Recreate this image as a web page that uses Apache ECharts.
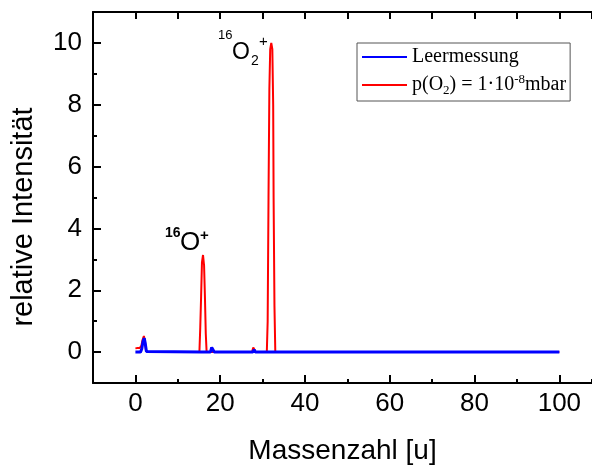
<!DOCTYPE html>
<html>
<head>
<meta charset="utf-8">
<script src="https://cdn.jsdelivr.net/npm/echarts@6/dist/echarts.min.js"></script>
<style>html,body{margin:0;padding:0;background:#fff}#c{width:592px;height:466px}</style>
</head>
<body>
<div id="c"></div>
<script>
// ---- data ----
const xTickLabels = [0, 20, 40, 60, 80, 100];
const yTickLabels = [0, 2, 4, 6, 8, 10];
const xTitle = 'Massenzahl [u]';
const yTitle = 'relative Intensität';

const blueName = 'Leermessung';
const blueMass = [0, 1.2, 1.5, 1.8, 2.1, 2.3, 2.6, 2.9, 15.6, 15.9, 16.2, 17.7, 18.0, 18.3, 18.6, 27.7, 28.0, 28.3, 43.7, 44.0, 44.3, 100];
const blueInt  = [0, 0, 0.1, 0.35, 0.45, 0.3, 0.02, 0, 0, 0.06, 0, 0, 0.15, 0.12, 0, 0, 0.08, 0, 0, 0.03, 0, 0];

const redName = 'p(O₂) = 1·10⁻⁸mbar';
const redMass = [0, 0.5, 1.0, 1.4, 1.7, 2.0, 2.2, 2.5, 3.0,
  12.0, 12.2, 12.4,
  15.1, 15.3, 15.5, 15.7, 15.95, 16.2, 16.4, 16.6, 16.8,
  27.5, 27.8, 28.1, 28.4,
  31.0, 31.2, 31.4, 31.6, 31.8, 32.05, 32.3, 32.5, 32.6, 32.8, 33.0,
  33.8, 34.1, 34.4,
  43.7, 44.0, 44.3, 100];
const redInt = [0.12, 0.13, 0.13, 0.2, 0.4, 0.52, 0.4, 0.05, 0,
  0, 0.04, 0,
  0, 0.8, 1.8, 2.9, 3.14, 2.8, 1.8, 0.6, 0,
  0, 0.15, 0.12, 0,
  0, 1.0, 5.0, 8.5, 9.8, 10.0, 9.8, 8.0, 5.0, 1.5, 0,
  0, 0.06, 0,
  0, 0.05, 0, 0];

const zip = (a, b) => a.map((v, i) => [v, b[i]]);

const chart = echarts.init(document.getElementById('c'), null, {renderer: 'canvas'});
const font = 'Liberation Sans, Arial, sans-serif';
const serif = 'Liberation Serif, Times New Roman, serif';
const lineStyle = {color: '#000', width: 2};
const X_MIN = -10, X_MAX = 107.7, Y_MIN = -1, Y_MAX = 11;

chart.setOption({
  animation: false,
  backgroundColor: '#fff',
  grid: {left: 93, top: 12, right: 0, bottom: 83, containLabel: false, outerBoundsMode: 'none'},
  legend: {
    orient: 'vertical',
    left: 357, top: 43,
    data: [blueName, redName],
    icon: 'rect',
    itemWidth: 45, itemHeight: 2,
    itemGap: 6,
    padding: [4, 4, 4, 5],
    borderColor: '#555', borderWidth: 1,
    textStyle: {
      fontFamily: serif, fontSize: 20, color: '#000',
      rich: {
        n: {fontFamily: serif, fontSize: 20, lineHeight: 24},
        sub: {fontFamily: serif, fontSize: 13, lineHeight: 13, verticalAlign: 'bottom'},
        sup: {fontFamily: serif, fontSize: 13, lineHeight: 13, verticalAlign: 'top'}
      }
    },
    formatter: function (name) {
      if (name === redName) return '{n|p(O}{sub|2}{n|) = 1·10}{sup|-8}{n|mbar}';
      return '{n|' + name + '}';
    }
  },
  xAxis: [
    {
      type: 'value', min: X_MIN, max: X_MAX, interval: 10, position: 'bottom',
      name: xTitle, nameLocation: 'middle', nameGap: 54,
      nameTextStyle: {fontFamily: font, fontSize: 28, color: '#000'},
      axisLine: {show: true, onZero: false, lineStyle: lineStyle},
      axisTick: {show: true, inside: true, length: 4, lineStyle: lineStyle},
      axisLabel: {show: true, customValues: xTickLabels, margin: 8, fontFamily: font, fontSize: 26, color: '#000'},
      splitLine: {show: false}
    },
    {
      type: 'value', min: X_MIN, max: X_MAX, position: 'bottom',
      axisLine: {show: false, onZero: false},
      axisTick: {show: true, inside: true, length: 8, customValues: xTickLabels, lineStyle: lineStyle},
      axisLabel: {show: false}, splitLine: {show: false}
    },
    {
      type: 'value', min: X_MIN, max: X_MAX, interval: 10, position: 'top',
      axisLine: {show: true, onZero: false, lineStyle: lineStyle},
      axisTick: {show: true, inside: true, length: 7, lineStyle: lineStyle},
      axisLabel: {show: false}, splitLine: {show: false}
    }
  ],
  yAxis: [
    {
      type: 'value', min: Y_MIN, max: Y_MAX, interval: 1, position: 'left',
      axisLine: {show: true, onZero: false, lineStyle: lineStyle},
      axisTick: {show: true, inside: true, length: 4, lineStyle: lineStyle},
      axisLabel: {show: true, customValues: yTickLabels, margin: 11, fontFamily: font, fontSize: 26, color: '#000'},
      splitLine: {show: false}
    },
    {
      type: 'value', min: Y_MIN, max: Y_MAX, position: 'left',
      axisLine: {show: false, onZero: false},
      axisTick: {show: true, inside: true, length: 8, customValues: yTickLabels, lineStyle: lineStyle},
      axisLabel: {show: false}, splitLine: {show: false}
    }
  ],
  series: [
    {
      name: redName, type: 'line', xAxisIndex: 0, yAxisIndex: 0,
      data: zip(redMass, redInt), showSymbol: false, symbol: 'none',
      color: '#ff0000', lineStyle: {color: '#ff0000', width: 2}, z: 2
    },
    {
      name: blueName, type: 'line', xAxisIndex: 0, yAxisIndex: 0,
      data: zip(blueMass, blueInt), showSymbol: false, symbol: 'none',
      color: '#0000ff', lineStyle: {color: '#0000ff', width: 3}, z: 3
    }
  ],
  graphic: [
    {type: 'text', x: 24, y: 217, rotation: Math.PI / 2,
     style: {text: yTitle, fontFamily: font, fontSize: 29, fill: '#000', align: 'center', verticalAlign: 'middle'}},
    {type: 'text', left: 165, top: 226, style: {text: '16', fontFamily: font, fontSize: 14, fontWeight: 'bold', fill: '#000'}},
    {type: 'text', left: 180, top: 230, style: {text: 'O', fontFamily: font, fontSize: 26, fill: '#000'}},
    {type: 'text', left: 200, top: 228, style: {text: '+', fontFamily: font, fontSize: 15, fontWeight: 'bold', fill: '#000'}},
    {type: 'text', left: 218, top: 29, style: {text: '16', fontFamily: font, fontSize: 13, fill: '#000'}},
    {type: 'text', left: 232, top: 41, style: {text: 'O', fontFamily: font, fontSize: 23, fill: '#000'}},
    {type: 'text', left: 251, top: 54, style: {text: '2', fontFamily: font, fontSize: 14, fill: '#000'}},
    {type: 'text', left: 259, top: 34, style: {text: '+', fontFamily: font, fontSize: 15, fill: '#000'}}
  ]
});
</script>
</body>
</html>
